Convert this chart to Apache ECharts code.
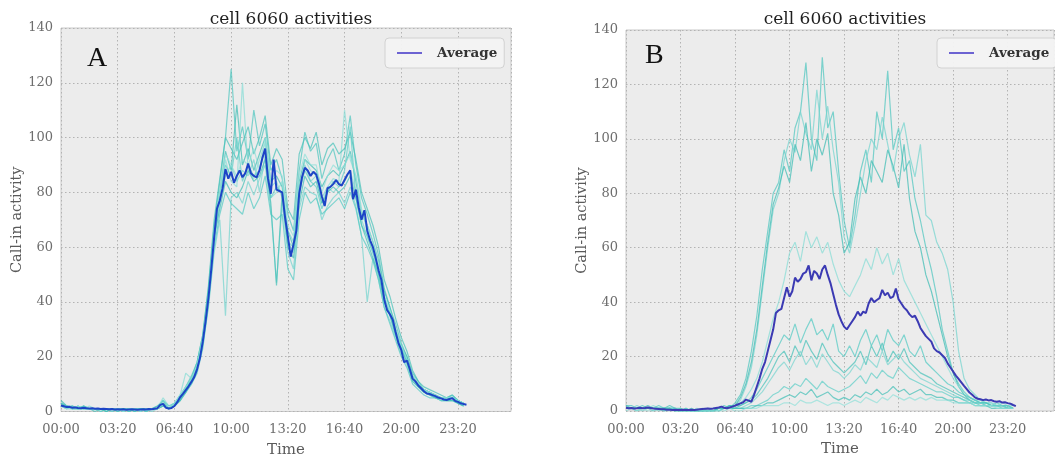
<!DOCTYPE html>
<html>
<head>
<meta charset="utf-8">
<script src="https://cdn.jsdelivr.net/npm/echarts@6/dist/echarts.min.js"></script>
<style>
  html, body { margin: 0; padding: 0; background: #ffffff; }
  #chart { width: 1055px; height: 458px; }
</style>
</head>
<body>
<div id="chart"></div>
<script>
// Time of day in minutes: 10-minute bins for the averages, 20-minute bins for single days
const minutesFine = Array.from({ length: 144 }, (_, i) => i * 10);
const minutesCoarse = Array.from({ length: 72 }, (_, i) => i * 20);

const timeTicks = ['00:00', '03:20', '06:40', '10:00', '13:20', '16:40', '20:00', '23:20'];

// Panel A: average call-in activity
const avgA = [
  2.2,1.9,1.6,1.7,1.4,1.5,1.3,1.2,1.4,1.2, 1.1,1.2,1.0,1.1,0.9,1.0,0.9,0.8,0.9,0.7,
  0.8,0.7,0.8,0.6,0.7,0.8,0.7,0.6,0.7,0.8, 0.7,0.9,0.8,1.0,1.2,2.4,2.8,1.4,1.1,1.3,
  2.0,3.4,
  5.2,6.4,7.8,9.2,10.8,12.6,15.5,19.5,25.5,33,
  41.5,52,63.5,74,77,81.5,88.5,85,87.5,83.5,
  86,88,85.5,87,90.5,87,86,85.5,88,92.5,
  96,85,79.5,92,81,80.5,80,71,64,56.5,
  61,66,79.5,85.5,89,88,86,87.5,86.5,83,
  78.5,75,81.5,82,83,84.5,83,82.5,84.5,86.5,
  88,77.5,81,74.5,70,73.5,66,62.5,60,56,
  51.5,48,41,37,35.5,33.5,29,25,22.5,18,
  18.6,15.5,12,11,9.5,8.5,7.4,6.6,6.4,6,
  5.6,5.1,4.8,4.4,4.2,4.6,4.8,3.9,3.5,3.0,
  2.7,2.5
];

// Panel A: individual days
const traceA1 = [3,2,2,1,2,1,1,1,0,1,1,0,1,0,1,1,1,2,4,1,3, 6,9,13,18,28,46,70, 85,100,125,95,104,92,110,97,105,88,92,85,72, 66,88,102,95,98,85,92,96,88,94,108,90,78,72,65, 57,45,38,32,25,20,14,11,8,7,6,5,5,6,4,3];
const traceA2 = [2,1,1,2,1,1,1,0,1,1,0,1,1,1,0,1,1,1,3,1,2, 5,7,10,15,24,38,58, 70,35,78,80,76,84,79,85,90,74,47,76,58, 52,74,82,80,79,70,75,78,80,76,82,75,64,40,56, 48,38,33,27,21,17,11,9,7,6,5,4,4,4,3,2];
const traceA3 = [4,2,1,1,2,1,1,1,1,0,1,1,0,1,1,0,1,1,2,1,2, 4,8,12,17,27,44,66, 80,95,88,112,90,96,88,94,100,84,86,82,66, 60,84,92,90,88,82,86,88,86,90,95,84,72,68,62, 55,44,38,30,24,20,13,10,8,7,6,5,4,5,4,3];
const traceA4 = [2,2,1,1,1,2,1,1,1,1,0,1,1,0,1,1,1,1,5,2,3, 6,14,12,17,25,40,62, 78,92,84,82,120,88,85,92,98,78,80,84,62, 58,78,92,88,86,76,82,85,84,110,92,86,74,66,60, 52,40,35,28,22,18,12,9,8,6,5,4,4,6,3,2];
const traceA5 = [3,1,2,1,1,1,1,1,0,1,1,0,1,1,1,0,1,1,3,1,2, 4,7,10,14,23,39,60, 72,80,76,74,72,80,74,78,86,72,70,72,52, 48,70,80,76,78,72,74,76,78,74,80,74,64,60,55, 48,38,32,26,20,16,10,8,6,5,5,4,4,4,3,2];
const traceA6 = [2,2,1,2,1,1,0,1,1,1,1,1,0,1,0,1,1,2,3,1,3, 5,9,12,18,28,45,68, 84,100,96,92,98,104,94,100,108,90,96,92,74, 70,94,100,96,102,90,96,98,94,96,102,92,80,74,68, 60,48,42,34,27,22,15,11,9,8,7,6,5,6,4,3];
const traceA7 = [3,2,1,1,1,1,1,1,1,0,1,0,1,1,1,1,0,1,2,1,2, 5,8,11,16,26,41,63, 76,86,90,84,88,86,92,80,94,82,84,78,66, 62,82,90,84,86,78,82,80,82,84,88,80,70,64,58, 50,40,36,28,23,19,12,10,7,7,6,5,5,5,4,3];
const traceA8 = [2,1,2,1,2,1,1,0,1,1,1,1,0,1,1,0,1,1,4,2,3, 5,8,11,15,26,43,65, 79,90,86,100,84,90,86,88,96,78,82,80,62, 60,80,88,84,82,74,80,84,82,88,104,78,68,64,58, 52,42,36,29,24,19,12,10,8,7,6,5,5,5,4,3];
const traceA9 = [3,2,1,1,1,1,1,1,0,1,0,1,1,0,1,1,1,1,2,1,2, 4,7,11,16,25,42,64, 74,84,80,78,82,88,84,86,92,76,46,80,60, 56,76,86,82,84,76,80,82,80,82,86,78,68,62,56, 50,40,35,28,23,18,11,9,7,6,5,5,4,4,3,2];
const traceA10 = [2,1,1,2,1,1,1,1,1,1,1,0,1,1,0,1,1,1,3,1,3, 6,9,12,17,27,42,66, 80,94,90,86,92,90,96,88,100,84,88,86,68, 64,86,94,90,90,80,86,90,88,90,94,86,72,68,62, 54,42,37,30,24,19,13,10,8,7,6,5,5,5,4,3];

// Panel B: average call-in activity
const avgB = [
  1.2,1.0,1.1,0.9,1.0,1.2,1.0,1.1,1.3,1.1, 0.9,0.8,0.7,0.6,0.6,0.5,0.5,0.4,0.5,0.4,
  0.4,0.5,0.4,0.4,0.5,0.4,0.5,0.6,0.7,0.8, 0.9,0.8,0.9,1.1,1.3,1.6,1.2,1.0,1.3,1.6,
  2.0,2.4,
  2.8,3.2,4.2,3.8,3.4,6,9,12,15.5,18,
  22,26,30,36,37,37.5,41.5,45.5,42,44,
  49,47.5,48.5,50.5,51,53.5,48,51.5,50.5,48.5,
  52,53.5,50,47,43,39,35.5,33,31,30,
  31.5,33,34.5,36.5,35,36.5,36,39.5,41.5,40,
  40.8,41.5,44.5,42.5,43.5,41.5,42,45,41,39.5,
  38,37,35.5,34.5,35,33,30.5,29,27.5,26.5,
  25.5,23,22,21.5,20.5,19.5,17.5,16,14.5,13,
  11.8,10.5,9.2,8,6.8,6,5,4.5,4.3,4,
  4.2,3.9,4,3.6,3.4,3.6,3.1,3.2,2.9,2.7,
  2.2,1.8
];

// Panel B: individual days
const traceB1 = [2,2,1,2,1,1,1,0,1,0,0,1,0,0,1,0,1,1,2,1,3, 6,12,22,35,52,66,80, 84,96,88,104,110,128,100,92,130,104,110,88,70, 60,72,88,96,84,110,100,125,96,104,88,92,78,70,60, 52,42,30,22,14,10,7,5,4,3,3,2,3,2,2,1];
const traceB2 = [1,1,2,1,1,1,0,1,1,0,1,0,0,1,0,0,1,0,1,2,2, 4,9,16,28,44,60,74, 80,92,100,95,110,102,96,118,100,112,96,84,64, 58,68,80,92,100,96,108,98,88,100,106,94,86,98,72, 70,62,58,52,40,22,12,8,6,4,3,3,2,2,2,1];
const traceB3 = [2,1,1,1,2,1,1,0,1,0,0,0,1,0,0,1,0,1,1,2,2, 5,10,18,30,46,62,76, 82,90,84,98,92,106,88,100,94,102,80,72,58, 62,78,86,80,92,88,84,96,90,82,98,78,66,60,50, 44,36,28,20,14,9,6,4,3,3,2,2,2,2,1,1];
const traceB4 = [1,1,1,1,1,2,1,1,1,1,0,0,0,0,0,0,1,1,1,1,2, 3,5,8,12,18,26,34, 40,48,58,62,55,66,60,64,58,62,54,48,44, 42,46,50,56,52,60,54,58,50,56,48,44,40,36,32, 28,24,20,16,12,9,7,5,4,4,3,3,2,3,2,2];
const traceB5 = [1,1,1,1,1,1,2,1,1,1,0,1,0,0,0,0,0,1,1,1,2, 2,3,5,8,12,16,20, 24,28,26,32,25,30,34,28,30,26,32,22,20, 24,20,26,30,24,28,22,30,26,24,28,22,20,24,18, 16,14,12,10,9,7,6,5,4,3,3,2,2,2,2,1];
const traceB6 = [1,1,1,1,1,1,1,1,2,1,1,0,0,0,0,0,0,1,1,2,1, 2,3,4,6,9,12,16, 20,22,18,24,20,26,22,19,25,21,18,16,14, 16,18,22,17,24,20,25,18,22,19,23,18,16,14,13, 12,10,9,8,7,6,5,4,3,3,3,2,2,2,1,1];
const traceB7 = [1,1,1,0,1,1,1,1,1,1,0,0,0,0,0,0,0,0,1,1,1, 1,2,3,5,7,10,13, 16,18,15,19,22,17,20,16,21,18,15,14,12, 14,17,15,20,18,16,22,17,19,21,18,16,14,12,11, 10,9,8,7,6,5,4,4,3,3,2,2,2,2,1,1];
const traceB8 = [1,1,1,1,1,1,1,1,1,1,0,0,0,0,0,0,0,0,1,1,1, 1,1,2,2,3,4,6, 7,9,8,10,9,12,10,8,11,9,8,7,8, 9,11,13,10,14,12,15,13,12,16,14,12,11,10,9, 8,7,7,6,5,5,4,3,3,2,2,2,2,1,1,1];
const traceB9 = [1,1,0,1,1,0,1,1,1,0,0,0,0,0,0,0,0,1,1,1,1, 1,1,1,2,2,3,3, 4,5,6,5,7,6,8,5,6,7,5,4,5, 4,6,5,7,6,8,6,7,9,7,8,6,7,8,6, 6,5,5,4,4,3,3,3,2,2,2,1,1,1,1,1];
const traceB10 = [0,1,0,1,0,0,1,0,0,0,0,0,0,0,0,0,0,0,0,1,0, 0,1,1,1,2,2,2, 2,3,3,2,4,3,3,4,3,2,3,3,2, 3,4,3,5,4,3,5,4,6,5,4,5,4,5,4, 5,4,4,4,3,3,3,3,2,2,2,2,1,1,1,1];

const tracesA = [traceA1, traceA2, traceA3, traceA4, traceA5, traceA6, traceA7, traceA8, traceA9, traceA10];
const tracesB = [traceB1, traceB2, traceB3, traceB4, traceB5, traceB6, traceB7, traceB8, traceB9, traceB10];

const traceColors = ['#4fc6bf', '#74d4ce', '#3fbcb4', '#86dcd6', '#55cbc3',
                     '#49c2ba', '#7ad6d0', '#5fcec7', '#44bfb7', '#92e0da'];

const SERIF = '"DejaVu Serif", serif';
const TICK_COLOR = '#6e6e6e';
const LEGEND_LINE = '#6c63d2';

function clock(v) {
  const i = v / 200;
  return Number.isInteger(i) && i < timeTicks.length ? timeTicks[i] : '';
}
function pairs(times, vals) {
  return vals.map((v, i) => [times[i], v]);
}

const panels = [
  { grid: { left: 61, top: 28, width: 450, height: 383.5 }, xMax: 1587,
    avg: avgA, avgColor: '#1d44c6', traces: tracesA, center: 286,
    legend: { left: 385, top: 38 } },
  { grid: { left: 626, top: 30, width: 428, height: 381 }, xMax: 1570,
    avg: avgB, avgColor: '#3b3ab3', traces: tracesB, center: 840,
    legend: { left: 937, top: 38 } }
];

const dotted = { type: [1.5, 2.5], color: '#b3b3b3', width: 1 };

const option = {
  animation: false,
  backgroundColor: '#ffffff',
  title: panels.map(p => ({
    text: 'cell 6060 activities',
    left: p.center,
    textAlign: 'center',
    top: 6,
    textStyle: { fontFamily: SERIF, fontSize: 17, fontWeight: 'normal', color: '#1e1e1e' }
  })),
  grid: panels.map(p => Object.assign({
    show: true, backgroundColor: '#ececec', borderColor: '#c9c9c9', borderWidth: 1,
    containLabel: false, outerBoundsMode: 'none'
  }, p.grid)),
  xAxis: panels.map((p, k) => ({
    type: 'value', gridIndex: k, min: 0, max: p.xMax, interval: 200,
    axisLine: { show: false }, axisTick: { show: false },
    axisLabel: { formatter: clock, color: TICK_COLOR, fontFamily: SERIF, fontSize: 13, margin: 12 },
    splitLine: { show: true, lineStyle: dotted },
    name: 'Time', nameLocation: 'middle', nameGap: 31,
    nameTextStyle: { fontFamily: SERIF, fontSize: 15, color: '#5a5a5a' }
  })),
  yAxis: panels.map((p, k) => ({
    type: 'value', gridIndex: k, min: 0, max: 140, interval: 20,
    axisLine: { show: false }, axisTick: { show: false },
    axisLabel: { color: TICK_COLOR, fontFamily: SERIF, fontSize: 13, margin: 8 },
    splitLine: { show: true, lineStyle: dotted },
    name: 'Call-in activity', nameLocation: 'middle', nameGap: 36,
    nameTextStyle: { fontFamily: SERIF, fontSize: 14.5, color: '#5a5a5a' }
  })),
  legend: panels.map(p => ({
    data: [{ name: 'Average', icon: 'rect', itemStyle: { color: LEGEND_LINE } }],
    left: p.legend.left, top: p.legend.top,
    orient: 'horizontal',
    padding: [7, 7, 7, 12],
    itemWidth: 25, itemHeight: 2,
    backgroundColor: 'rgba(243,243,243,0.95)',
    borderColor: '#d2d2d2', borderWidth: 1, borderRadius: 4,
    selectedMode: false,
    textStyle: { fontFamily: SERIF, fontSize: 13.5, fontWeight: 'bold', color: '#333333',
                 padding: [0, 0, 0, 10], lineHeight: 16 }
  })),
  graphic: [
    { type: 'text', left: 87, top: 45, style: { text: 'A', font: '28px "Liberation Serif"', fill: '#111111' } },
    { type: 'text', left: 645, top: 42, style: { text: 'B', font: '28px "Liberation Serif"', fill: '#111111' } }
  ],
  series: []
};

panels.forEach((p, k) => {
  p.traces.forEach((tr, j) => {
    option.series.push({
      name: 'day' + k + '-' + j, type: 'line', xAxisIndex: k, yAxisIndex: k,
      data: pairs(minutesCoarse, tr), symbol: 'none', silent: true, z: 2,
      lineStyle: { width: 1.2, color: traceColors[j % traceColors.length], opacity: 0.72 }
    });
  });
  option.series.push({
    name: 'Average', type: 'line', xAxisIndex: k, yAxisIndex: k,
    data: pairs(minutesFine, p.avg), symbol: 'none', z: 3,
    lineStyle: { width: 2, color: p.avgColor }
  });
});

const chart = echarts.init(document.getElementById('chart'));
chart.setOption(option);
</script>
</body>
</html>
